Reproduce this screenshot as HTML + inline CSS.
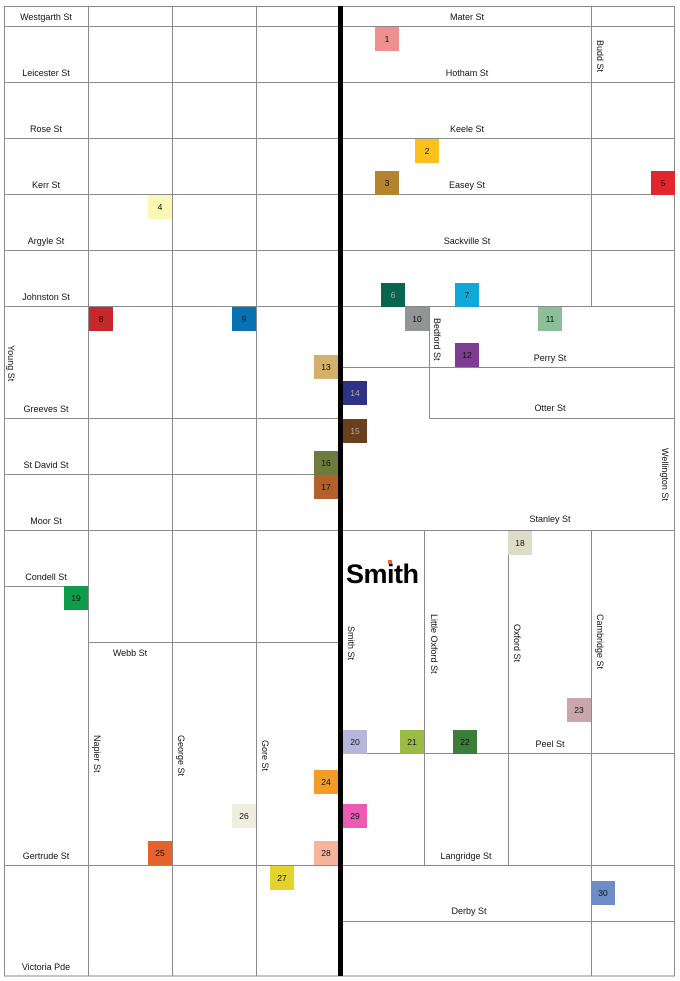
<!DOCTYPE html>
<html><head><meta charset="utf-8"><style>
html,body{margin:0;padding:0;background:#fff;}
svg{display:block;}
text{font-family:"Liberation Sans",sans-serif;font-size:9px;fill:#111;}
.n{font-size:8.5px;text-anchor:middle;}
.c{text-anchor:middle;}
</style></head><body>
<svg width="680" height="981" viewBox="0 0 680 981" xmlns="http://www.w3.org/2000/svg">
<g stroke="#8a8a8a" stroke-width="1" fill="none">
<rect x="4.5" y="6.5" width="670" height="969.5"/>
<line x1="88.5" y1="6" x2="88.5" y2="976"/>
<line x1="172.5" y1="6" x2="172.5" y2="976"/>
<line x1="256.5" y1="6" x2="256.5" y2="976"/>
<line x1="591.5" y1="6" x2="591.5" y2="306"/>
<line x1="429.5" y1="306" x2="429.5" y2="418"/>
<line x1="424.5" y1="530" x2="424.5" y2="865"/>
<line x1="508.5" y1="530" x2="508.5" y2="865"/>
<line x1="591.5" y1="530" x2="591.5" y2="976"/>
<line x1="4" y1="26.5" x2="675" y2="26.5"/>
<line x1="4" y1="82.5" x2="675" y2="82.5"/>
<line x1="4" y1="138.5" x2="675" y2="138.5"/>
<line x1="4" y1="194.5" x2="675" y2="194.5"/>
<line x1="4" y1="250.5" x2="675" y2="250.5"/>
<line x1="4" y1="306.5" x2="675" y2="306.5"/>
<line x1="343" y1="367.5" x2="675" y2="367.5"/>
<line x1="4" y1="418.5" x2="340" y2="418.5"/>
<line x1="429" y1="418.5" x2="675" y2="418.5"/>
<line x1="4" y1="474.5" x2="340" y2="474.5"/>
<line x1="4" y1="530.5" x2="675" y2="530.5"/>
<line x1="4" y1="586.5" x2="88" y2="586.5"/>
<line x1="88" y1="642.5" x2="340" y2="642.5"/>
<line x1="343" y1="753.5" x2="675" y2="753.5"/>
<line x1="4" y1="865.5" x2="675" y2="865.5"/>
<line x1="343" y1="921.5" x2="675" y2="921.5"/>
</g>
<rect x="338" y="6" width="5" height="970" fill="#000"/>

<g class="c">
<text x="46" y="20" class="c">Westgarth St</text>
<text x="46" y="76" class="c">Leicester St</text>
<text x="46" y="132" class="c">Rose St</text>
<text x="46" y="188" class="c">Kerr St</text>
<text x="46" y="244" class="c">Argyle St</text>
<text x="46" y="300" class="c">Johnston St</text>
<text x="46" y="412" class="c">Greeves St</text>
<text x="46" y="468" class="c">St David St</text>
<text x="46" y="524" class="c">Moor St</text>
<text x="46" y="580" class="c">Condell St</text>
<text x="130" y="656" class="c">Webb St</text>
<text x="46" y="859" class="c">Gertrude St</text>
<text x="46" y="970" class="c">Victoria Pde</text>
<text x="467" y="20" class="c">Mater St</text>
<text x="467" y="76" class="c">Hotham St</text>
<text x="467" y="132" class="c">Keele St</text>
<text x="467" y="188" class="c">Easey St</text>
<text x="467" y="244" class="c">Sackville St</text>
<text x="550" y="361" class="c">Perry St</text>
<text x="550" y="411" class="c">Otter St</text>
<text x="550" y="522" class="c">Stanley St</text>
<text x="550" y="747" class="c">Peel St</text>
<text x="466" y="859" class="c">Langridge St</text>
<text x="469" y="914" class="c">Derby St</text>
</g>
<g>
<text transform="translate(8,345) rotate(90)">Young St</text>
<text transform="translate(434,318) rotate(90)">Bedford St</text>
<text transform="translate(662,448) rotate(90)">Wellington St</text>
<text transform="translate(597,40) rotate(90)">Budd St</text>
<text transform="translate(348,626) rotate(90)">Smith St</text>
<text transform="translate(431,614) rotate(90)">Little Oxford St</text>
<text transform="translate(514,624) rotate(90)">Oxford St</text>
<text transform="translate(597,614) rotate(90)">Cambridge St</text>
<text transform="translate(94,735) rotate(90)">Napier St</text>
<text transform="translate(178,735) rotate(90)">George St</text>
<text transform="translate(262,740) rotate(90)">Gore St</text>
</g>

<text x="346" y="583" style="font-size:27px;font-weight:bold;fill:#000;letter-spacing:-0.5px">Smith</text>
<rect x="388" y="560" width="4" height="4" fill="#f26522"/>

<g>
<rect x="375" y="27" width="24" height="24" fill="#ef8f90"/><text x="387" y="42" class="n">1</text>
<rect x="415" y="139" width="24" height="24" fill="#fcc21b"/><text x="427" y="154" class="n">2</text>
<rect x="375" y="171" width="24" height="24" fill="#b5832f"/><text x="387" y="186" class="n">3</text>
<rect x="148" y="195" width="24" height="24" fill="#fbf7b4"/><text x="160" y="210" class="n">4</text>
<rect x="651" y="171" width="24" height="24" fill="#e3262b"/><text x="663" y="186" class="n">5</text>
<rect x="381" y="283" width="24" height="24" fill="#08664f"/><text x="393" y="298" class="n" style="fill:#aaa">6</text>
<rect x="455" y="283" width="24" height="24" fill="#0fa9d9"/><text x="467" y="298" class="n">7</text>
<rect x="89" y="307" width="24" height="24" fill="#c7282a"/><text x="101" y="322" class="n">8</text>
<rect x="232" y="307" width="24" height="24" fill="#0672b4"/><text x="244" y="322" class="n">9</text>
<rect x="405" y="307" width="24" height="24" fill="#939498"/><text x="417" y="322" class="n">10</text>
<rect x="538" y="307" width="24" height="24" fill="#8abf98"/><text x="550" y="322" class="n">11</text>
<rect x="455" y="343" width="24" height="24" fill="#7e3c93"/><text x="467" y="358" class="n">12</text>
<rect x="314" y="355" width="24" height="24" fill="#d4b06a"/><text x="326" y="370" class="n">13</text>
<rect x="343" y="381" width="24" height="24" fill="#2e3286"/><text x="355" y="396" class="n" style="fill:#aaa">14</text>
<rect x="343" y="419" width="24" height="24" fill="#6a3f1d"/><text x="355" y="434" class="n" style="fill:#aaa">15</text>
<rect x="314" y="451" width="24" height="24" fill="#6f7b3c"/><text x="326" y="466" class="n">16</text>
<rect x="314" y="475" width="24" height="24" fill="#b2612b"/><text x="326" y="490" class="n">17</text>
<rect x="508" y="531" width="24" height="24" fill="#dcdcc7"/><text x="520" y="546" class="n">18</text>
<rect x="64" y="586" width="24" height="24" fill="#0e9c4b"/><text x="76" y="601" class="n">19</text>
<rect x="343" y="730" width="24" height="24" fill="#b6b6db"/><text x="355" y="745" class="n">20</text>
<rect x="400" y="730" width="24" height="24" fill="#9bbc44"/><text x="412" y="745" class="n">21</text>
<rect x="453" y="730" width="24" height="24" fill="#3c7d3a"/><text x="465" y="745" class="n">22</text>
<rect x="567" y="698" width="24" height="24" fill="#c9a6ab"/><text x="579" y="713" class="n">23</text>
<rect x="314" y="770" width="24" height="24" fill="#f39a27"/><text x="326" y="785" class="n">24</text>
<rect x="148" y="841" width="24" height="24" fill="#e5622c"/><text x="160" y="856" class="n">25</text>
<rect x="232" y="804" width="24" height="24" fill="#efece0"/><text x="244" y="819" class="n">26</text>
<rect x="270" y="866" width="24" height="24" fill="#e3d32c"/><text x="282" y="881" class="n">27</text>
<rect x="314" y="841" width="24" height="24" fill="#f6b49c"/><text x="326" y="856" class="n">28</text>
<rect x="343" y="804" width="24" height="24" fill="#e95cb2"/><text x="355" y="819" class="n">29</text>
<rect x="591" y="881" width="24" height="24" fill="#6d8dc8"/><text x="603" y="896" class="n">30</text>
</g>
</svg>
</body></html>
